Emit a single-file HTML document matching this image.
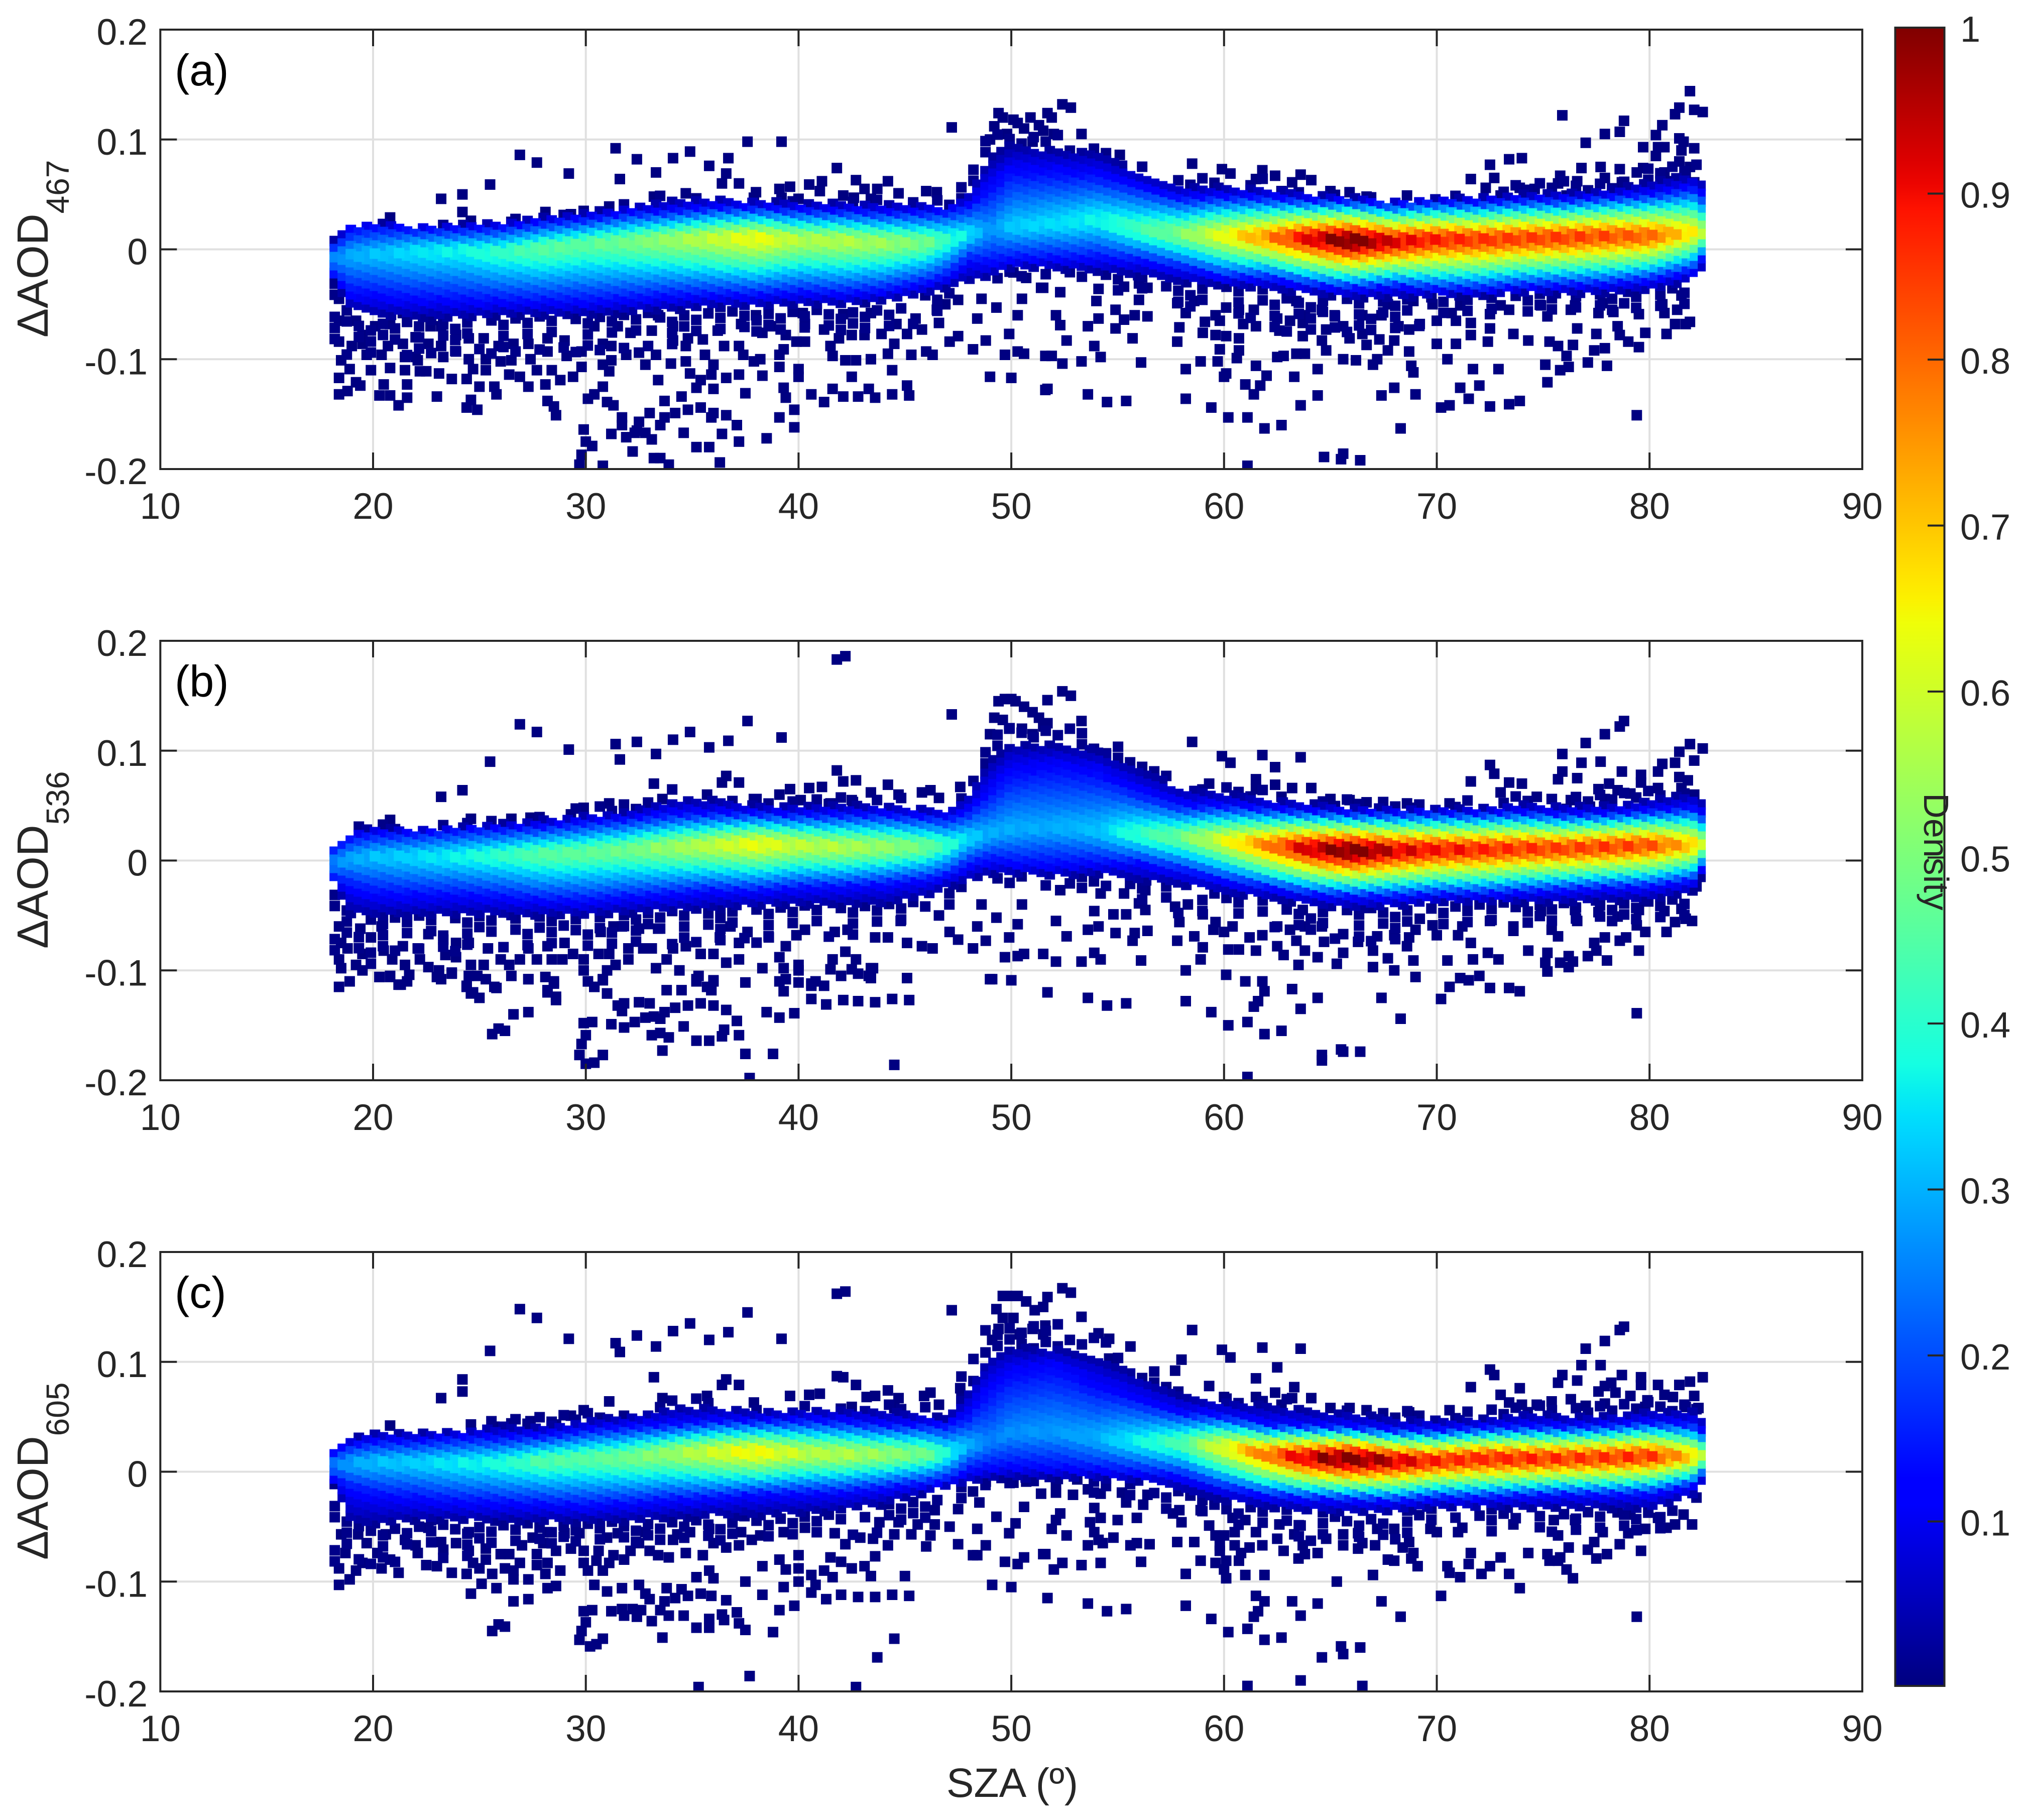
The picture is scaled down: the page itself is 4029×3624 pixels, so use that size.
<!DOCTYPE html>
<html lang="en">
<head>
<meta charset="utf-8">
<title>AOD difference versus SZA density scatter</title>
<style>
html,body{margin:0;padding:0;background:#fff;}
svg{display:block;}
text{font-family:"Liberation Sans",sans-serif;fill:#262626;}
</style>
</head>
<body>
<svg id="chart" width="4029" height="3624" viewBox="0 0 4029 3624">
<rect x="0" y="0" width="4029" height="3624" fill="#fff"/>
<defs>
<linearGradient id="jetGrad" x1="0" y1="1" x2="0" y2="0"></linearGradient>
<clipPath id="clipA"><rect x="319" y="59" width="3390" height="875"/></clipPath>
<clipPath id="clipB"><rect x="319" y="1276" width="3390" height="875"/></clipPath>
<clipPath id="clipC"><rect x="319" y="2493" width="3390" height="875"/></clipPath>
</defs>
<g id="panelA"></g>
<g id="panelB"></g>
<g id="panelC"></g>
<text x="348" y="170" font-size="88" style="fill:#000">(a)</text>
<text x="348" y="1387" font-size="88" style="fill:#000">(b)</text>
<text x="348" y="2604" font-size="88" style="fill:#000">(c)</text>
<text transform="translate(95 672) rotate(-90)" font-size="87">ΔAOD<tspan font-size="64" dy="42">467</tspan></text>
<text transform="translate(95 1889) rotate(-90)" font-size="87">ΔAOD<tspan font-size="64" dy="42">536</tspan></text>
<text transform="translate(95 3106) rotate(-90)" font-size="87">ΔAOD<tspan font-size="64" dy="42">605</tspan></text>
<text x="2016" y="3578" font-size="82" text-anchor="middle">SZA (º)</text>
<rect x="3774.5" y="55" width="98" height="3302" fill="url(#jetGrad)" stroke="#262626" stroke-width="4"/>
<g id="colorbarTicks"></g>
<text transform="translate(3832 1696) rotate(90)" font-size="70" text-anchor="middle">Density</text>
</svg>
<script>
const xTicks=[10,20,30,40,50,60,70,80,90];
const xTickLabels=["10","20","30","40","50","60","70","80","90"];
const yTicks=[-0.2,-0.1,0,0.1,0.2];
const yTickLabels=["-0.2","-0.1","0","0.1","0.2"];
const colorbarTicks=[0.1,0.2,0.3,0.4,0.5,0.6,0.7,0.8,0.9,1];
const colorbarTickLabels=["0.1","0.2","0.3","0.4","0.5","0.6","0.7","0.8","0.9","1"];

const szaBins=[18.2,19,20,22,24,26,28,30,32,34,36,38,40,42,44,46,47,48,49,50,52,54,56,58,60,62,64,66,68,70,72,74,76,78,80,82,82.4];

const centreA=[-.008,-.005,-.004,-.002,-.001,-.002,.001,.005,.007,.009,.01,.01,.009,.008,.006,.006,.009,.014,.018,.02,.023,.027,.018,.014,.0125,.011,.01,.008,.007,.009,.009,.01,.011,.012,.012,.015,.015];
const peakA=[.27,.3,.32,.36,.38,.42,.47,.47,.5,.55,.6,.66,.58,.58,.55,.5,.42,.36,.27,.33,.35,.38,.44,.52,.66,.78,.95,1.06,.95,.9,.88,.87,.87,.85,.83,.68,.6];
const upperA=[.005,.018,.02,.018,.018,.019,.024,.027,.032,.034,.037,.037,.035,.034,.033,.033,.034,.039,.055,.07,.07,.067,.057,.046,.047,.046,.044,.043,.04,.042,.042,.044,.044,.047,.049,.055,.049];
const upperTailA=[.008,.021,.024,.021,.022,.024,.029,.033,.039,.044,.046,.044,.042,.042,.041,.041,.038,.05,.082,.095,.09,.088,.07,.057,.056,.055,.05,.047,.044,.046,.047,.05,.051,.053,.061,.067,.062];
const upperSpeckleA=[.008,.024,.028,.024,.026,.028,.033,.038,.045,.05,.05,.05,.05,.052,.05,.05,.045,.07,.11,.118,.11,.1,.085,.07,.066,.065,.055,.05,.05,.05,.055,.06,.062,.065,.075,.085,.07];
const lowerA=[-.024,-.04,-.042,-.045,-.046,-.047,-.047,-.047,-.045,-.042,-.041,-.041,-.039,-.04,-.037,-.03,-.024,-.009,-.013,-.008,-.008,-.008,-.01,-.017,-.025,-.026,-.032,-.035,-.033,-.036,-.036,-.033,-.032,-.031,-.027,-.019,-.009];
const lowerTailA=[-.027,-.055,-.06,-.062,-.062,-.06,-.06,-.06,-.057,-.055,-.052,-.052,-.05,-.05,-.047,-.04,-.035,-.03,-.025,-.017,-.018,-.02,-.024,-.03,-.033,-.036,-.04,-.044,-.044,-.042,-.042,-.04,-.04,-.04,-.038,-.028,-.02];
const lowerSpeckleA=[-.1,-.1,-.1,-.098,-.095,-.095,-.095,-.095,-.09,-.09,-.085,-.08,-.08,-.08,-.075,-.065,-.05,-.04,-.03,-.025,-.03,-.035,-.045,-.055,-.06,-.07,-.08,-.085,-.08,-.065,-.065,-.06,-.06,-.06,-.06,-.05,-.03];

const centreB=[-.002,.002,.004,.004,.004,.005,.006,.007,.01,.0125,.014,.015,.014,.0125,.0125,.0125,.014,.02,.024,.028,.03,.027,.024,.021,.018,.014,.011,.009,.009,.01,.01,.011,.011,.0125,.014,.014,.015];
const peakB=[.28,.3,.32,.35,.38,.42,.47,.48,.5,.55,.6,.66,.6,.58,.55,.5,.42,.35,.3,.3,.3,.32,.42,.5,.64,.8,.97,1.06,.96,.92,.9,.88,.87,.87,.85,.72,.62];
const upperB=[.011,.021,.024,.024,.027,.028,.03,.034,.037,.041,.042,.042,.041,.041,.041,.039,.038,.044,.062,.08,.085,.08,.062,.049,.049,.046,.044,.042,.042,.042,.042,.043,.041,.042,.044,.047,.041];
const upperTailB=[.013,.026,.029,.028,.03,.033,.037,.041,.044,.055,.055,.05,.05,.05,.05,.047,.044,.06,.09,.105,.105,.1,.083,.065,.061,.055,.052,.048,.047,.047,.047,.051,.05,.05,.055,.06,.055];
const upperSpeckleB=[.015,.03,.034,.032,.036,.04,.045,.05,.055,.065,.065,.06,.058,.058,.058,.056,.05,.08,.12,.13,.125,.115,.095,.075,.07,.065,.06,.058,.055,.055,.055,.06,.058,.06,.065,.075,.065];
const lowerB=[-.017,-.024,-.03,-.031,-.031,-.033,-.036,-.036,-.033,-.03,-.027,-.027,-.024,-.023,-.021,-.017,-.013,-.003,.001,-.002,-.003,-.002,-.002,-.009,-.018,-.024,-.03,-.032,-.032,-.03,-.03,-.028,-.026,-.024,-.023,-.018,-.007];
const lowerTailB=[-.02,-.05,-.05,-.05,-.05,-.05,-.05,-.05,-.048,-.046,-.044,-.042,-.04,-.04,-.04,-.033,-.024,-.019,-.012,-.012,-.015,-.012,-.018,-.022,-.03,-.034,-.04,-.044,-.042,-.038,-.038,-.038,-.038,-.036,-.036,-.028,-.015];
const lowerSpeckleB=[-.09,-.095,-.095,-.09,-.09,-.085,-.085,-.085,-.085,-.08,-.075,-.075,-.07,-.07,-.07,-.06,-.05,-.035,-.025,-.02,-.025,-.03,-.04,-.05,-.055,-.06,-.07,-.075,-.075,-.06,-.06,-.06,-.06,-.06,-.06,-.05,-.025];

const centreC=[.0066,.008,.009,.009,.008,.008,.01,.012,.013,.017,.018,.018,.017,.016,.016,.016,.016,.024,.027,.035,.036,.03,.027,.026,.022,.016,.013,.012,.01,.01,.012,.012,.012,.013,.014,.014,.014];
const peakC=[.26,.3,.32,.34,.37,.4,.46,.47,.5,.55,.62,.68,.6,.58,.55,.5,.4,.3,.25,.27,.28,.3,.38,.46,.65,.82,.97,1.06,.97,.9,.9,.9,.88,.88,.88,.72,.6];
const upperC=[.017,.024,.027,.027,.03,.03,.032,.037,.04,.042,.045,.045,.046,.045,.042,.042,.041,.05,.075,.09,.095,.078,.065,.053,.05,.042,.041,.04,.037,.037,.039,.04,.04,.041,.044,.042,.037];
const upperTailC=[.02,.03,.035,.035,.037,.041,.041,.047,.05,.058,.058,.055,.056,.056,.055,.052,.047,.075,.105,.112,.112,.105,.086,.068,.063,.06,.055,.053,.047,.047,.047,.053,.05,.051,.055,.055,.05];
const upperSpeckleC=[.024,.036,.04,.042,.044,.05,.05,.056,.06,.066,.068,.065,.066,.066,.064,.06,.055,.11,.14,.145,.14,.125,.1,.08,.072,.068,.065,.063,.056,.056,.056,.062,.06,.06,.065,.07,.06];
const lowerC=[-.007,-.016,-.021,-.024,-.027,-.028,-.029,-.03,-.028,-.025,-.023,-.02,-.019,-.018,-.014,-.01,-.007,.002,.004,.006,.004,.002,0,-.004,-.015,-.021,-.024,-.025,-.026,-.023,-.023,-.021,-.02,-.02,-.019,-.012,-.004];
const lowerTailC=[-.011,-.048,-.048,-.044,-.044,-.045,-.045,-.046,-.045,-.042,-.04,-.04,-.038,-.035,-.03,-.019,-.014,-.011,-.006,-.006,-.006,-.006,-.009,-.016,-.026,-.032,-.036,-.038,-.036,-.033,-.033,-.033,-.033,-.033,-.035,-.022,-.011];
const lowerSpeckleC=[-.085,-.085,-.085,-.08,-.08,-.075,-.075,-.075,-.07,-.07,-.07,-.065,-.06,-.06,-.055,-.045,-.03,-.025,-.015,-.012,-.012,-.02,-.03,-.04,-.05,-.055,-.065,-.07,-.065,-.05,-.055,-.055,-.055,-.055,-.055,-.045,-.02];

const outliersA=[[26.9,.086],[27.7,.079],[25.5,.059],[24.2,.05],[23.2,.046],[24.2,.034],[24.6,.026],[20.8,.029],[26.5,.025],[28.1,.034],[29.2,.069],[31.4,.092],[31.6,.064],[32.4,.082],[33.3,.07],[34.1,.083],[34.9,.089],[35.8,.076],[36.7,.083],[36.6,.069],[36.4,.06],[37.2,.06],[37.6,.098],[39.2,.098],[41.8,.074],[41.1,.062],[40.5,.059],[42.7,.063],[44.2,.062],[43.1,.055],[43.7,.055],[39.6,.057],[39.1,.055],[38,.052],[47.2,.111],[46,.053],[46.5,.052],[44.7,.051],[31.1,.039],[33.2,.048],[34.7,.051],[29.3,.032],[29.9,.035],[41,.053],[42.1,.049],[42.6,.047],[43.4,.046],[40,.046],[39.2,.047],[37.9,.047],[49.4,.124],[49.6,.12],[50.1,.118],[50.3,.115],[49.2,.112],[49.8,.105],[50.6,.11],[50.9,.12],[51.3,.113],[49,.1],[51,.098],[52,.105],[51.9,.12],
[18.4,-.045],[18.4,-.065],[18.4,-.084],[18.5,-.101],[18.4,-.117],[18.4,-.132],[18.9,-.109],[18.8,-.129],[19.2,-.065],[19.5,-.078],[19,-.088],[19.7,-.096],[19.2,-.121],[19.4,-.124],[19.9,-.11],[19.5,-.086],[20.1,-.07],[20.4,-.096],[20.7,-.088],[21.4,-.086],[21.5,-.098],[20.5,-.123],[21.6,-.123],[20.3,-.133],[20.8,-.133],[21.6,-.135],[21.2,-.142],[20.8,-.068],[21.4,-.058],[20.8,-.108],[22,-.08],[22,-.098],[21.5,-.11],[22.2,-.111],[22.5,-.111],[22.1,-.101],[22.6,-.086],[23.2,-.07],[23.2,-.088],[23.3,-.098],[23.9,-.078],[23.9,-.093],[23.1,-.113],[23.7,-.118],[23,-.134],[22.7,-.07],[24.5,-.081],[24.5,-.1],[25.2,-.081],[25.3,-.1],[24.7,-.109],[25.3,-.11],[24.4,-.118],[25,-.125],[25.7,-.125],[25.8,-.132],[24.6,-.137],[24.4,-.144],[24.9,-.146],[25.9,-.088],[26,-.102],[26.5,-.101],[26.4,-.114],[26.9,-.116],[27.3,-.125],[26.6,-.086],[27.3,-.086],[27.4,-.1],[28.2,-.081],[28.2,-.093],[27.7,-.11],[28.1,-.123],[28.2,-.138],[28.5,-.143],[28.6,-.151],[28.8,-.119],[28.4,-.11],[29,-.083],[29.1,-.097],[29.8,-.093],[29.8,-.107],[29.4,-.116],[30.4,-.07],[30.8,-.125],[30.4,-.132],[30.1,-.136],[29.9,-.164],[30,-.175],[30.3,-.179],[29.8,-.187],[29.7,-.196],[30.8,-.086],[30.8,-.105],[31.2,-.088],[31.2,-.101],[31.1,-.111],[31.9,-.096],[32.1,-.076],[31.5,-.07],[32.5,-.094],[31,-.139],[31.3,-.142],[31.7,-.153],[31.2,-.168],[31.7,-.16],[31.9,-.171],[32.3,-.167],[32.5,-.157],[32.4,-.165],[30.8,-.197],[32.2,-.184],[33.1,-.074],[33.3,-.096],[32.8,-.105],[34.1,-.083],[34,-.104],[34.7,-.102],[34.7,-.088],[33.4,-.119],[33.7,-.138],[34.5,-.134],[33,-.149],[33.7,-.153],[33.5,-.16],[32.8,-.167],[33.1,-.173],[34.2,-.149],[34.6,-.167],[33.2,-.19],[33.5,-.19],[33.9,-.196],[33.4,-.06],[34.1,-.07],[34.8,-.081],[35.5,-.082],[35.6,-.096],[36,-.105],[34.9,-.113],[35.9,-.114],[35.4,-.119],[35.2,-.126],[36,-.127],[34.8,-.146],[35.4,-.144],[36,-.149],[35.9,-.153],[36.6,-.151],[37.1,-.16],[36.4,-.168],[35.2,-.18],[35.8,-.18],[37.2,-.175],[36.3,-.194],[36.5,-.088],[36.6,-.117],[37.2,-.114],[36.2,-.074],[37.3,-.068],[38,-.06],[37.2,-.088],[37.4,-.096],[37.9,-.102],[38.2,-.1],[38.3,-.115],[39.1,-.107],[39.1,-.096],[39.3,-.091],[37.5,-.131],[39.1,-.153],[38.5,-.172],[39.3,-.126],[39.4,-.135],[38.3,-.076],[38.7,-.07],[39.4,-.078],[39.8,-.146],[39.8,-.162],[39.9,-.084],[40.3,-.084],[40,-.109],[40,-.116],[40.6,-.132],[40.3,-.068],[41.2,-.073],[41.2,-.139],[40.2,-.058],[41.5,-.088],[41.6,-.097],[42.2,-.101],[42.7,-.101],[42.5,-.078],[43.1,-.078],[41.6,-.127],[42.1,-.134],[42.5,-.116],[42.8,-.134],[43.3,-.127],[43.6,-.135],[43.4,-.1],[42.1,-.059],[43.4,-.058],[41.9,-.081],[43.9,-.077],[44.2,-.095],[44.5,-.086],[44.6,-.068],[45.1,-.077],[45.8,-.073],[45.3,-.096],[44.4,-.11],[44.4,-.132],[45.1,-.124],[45.2,-.133],[46,-.093],[46.3,-.096],[46.6,-.067],[46.5,-.055],[46.9,-.05],[45.5,-.063],[47.5,-.046],[47.1,-.084],[47.5,-.079],[48.2,-.091],[48.8,-.083],[48.4,-.063],[48.6,-.045],[49.3,-.053],[49.9,-.077],[49.7,-.096],[50.3,-.093],[50.6,-.095],[50.3,-.06],[50.5,-.045],[49,-.116],[50,-.117],[51.4,-.035],[51.6,-.097],[51.6,-.128],[50.1,-.021],[50.7,-.026],
[52.4,.132],[52.8,.129],[51.7,.124],[53.3,.105],[51.5,.108],[58.5,.078],[55.1,.086],[59.9,.073],[60.3,.069],[61.8,.072],[62.4,.067],[63.6,.068],[63.2,.061],[64.1,.063],[61.5,.064],[65,.053],[65.9,.052],[62.7,.053],[66.7,.048],[68.6,.049],[72.5,.077],[73.4,.082],[74,.083],[71.6,.064],[72.7,.065],[72.3,.056],[75.9,.122],[77,.097],[77.9,.105],[78.6,.107],[78.8,.117],[80.6,.113],[80.3,.104],[79.7,.093],[80.4,.093],[80.7,.093],[80.3,.085],[81.4,.129],[81.2,.123],[81.9,.144],[82.1,.127],[82.5,.125],[81.4,.101],[81.6,.098],[82.1,.092],[81.5,.09],[81.4,.08],[76.8,.074],[77.7,.075],[78.6,.073],[75.8,.067],[76.6,.062],[77.9,.065],[79.7,.074],[79.4,.07],[80.7,.07],[81.9,.075],[81.7,.069],[75.7,.06],[73.9,.056],[74.6,.055],[76.1,.049],[73,.049],[78.7,.061],[82.1,.061],[81,.062],
[52.3,-.039],[51.5,-.035],[51.7,-.127],[53.6,-.132],[54.5,-.139],[55.4,-.138],[51.9,-.097],[52.4,-.104],[53.3,-.102],[54.2,-.098],[56.1,-.103],[52.6,-.083],[53.9,-.088],[55.7,-.081],[52.3,-.069],[52.1,-.06],[53.6,-.07],[54.1,-.063],[54.9,-.072],[55.3,-.064],[55.8,-.06],[56.4,-.061],[54,-.047],[54.1,-.036],[55.3,-.034],[56,-.031],[56.4,-.035],[56,-.046],[54.9,-.055],[57.8,-.049],[58.6,-.047],[58.2,-.058],[57.9,-.071],[57.8,-.084],[59,-.076],[59.1,-.066],[59.6,-.06],[60.1,-.053],[60.7,-.055],[59.8,-.065],[59.6,-.078],[60.1,-.079],[60.7,-.081],[60.9,-.068],[61.5,-.07],[62.6,-.074],[61.4,-.055],[62.5,-.063],[63.1,-.065],[63.7,-.067],[63.8,-.06],[63.4,-.047],[64.6,-.055],[64.6,-.083],[64.8,-.073],[65.2,-.06],[65.6,-.07],[65.9,-.081],[66.5,-.077],[66.5,-.06],[67.4,-.06],[67.3,-.082],[66.7,-.087],[68,-.083],[68.2,-.07],[68.7,-.073],[69.2,-.068],[67.7,-.05],[68.9,-.047],[69.8,-.05],[63.7,-.079],[63.8,-.095],[64.8,-.092],[63.4,-.095],[62.5,-.098],[62.8,-.097],[60.7,-.092],[59.8,-.091],[60.6,-.099],[59.7,-.102],[58.9,-.102],[58.2,-.109],[60.1,-.113],[60,-.116],[61.5,-.106],[62,-.115],[61,-.123],[61.7,-.124],[61.4,-.132],[63.3,-.116],[64.4,-.109],[63.6,-.142],[64.4,-.133],[65.6,-.1],[66.2,-.101],[67,-.105],[67.2,-.1],[67.7,-.092],[68.7,-.093],[68.8,-.106],[68.9,-.112],[70.5,-.1],[70,-.086],[70.9,-.086],[71.6,-.078],[72.4,-.084],[72.5,-.072],[73.6,-.077],[74.3,-.083],[75.3,-.084],[75.7,-.088],[76.4,-.087],[71.7,-.109],[72.9,-.109],[75.1,-.105],[76.1,-.097],[75.8,-.11],[76.2,-.107],[77.1,-.103],[78,-.106],[77.4,-.092],[77.9,-.09],[75.2,-.121],[71.1,-.126],[72,-.124],[71.5,-.136],[70.6,-.142],[70.2,-.144],[72.5,-.143],[73.4,-.141],[73.9,-.138],[69,-.132],[68,-.126],[67.4,-.133],[79.4,-.151],[68.3,-.163],[62.7,-.16],[61.9,-.163],[61.1,-.153],[60.2,-.153],[59.4,-.144],[58.2,-.136],[61.1,-.197],[64.7,-.189],[65.6,-.186],[65.5,-.191],[66.4,-.192],[72.5,-.059],[73.4,-.055],[75.2,-.061],[76.3,-.055],[77.6,-.058],[78.3,-.057],[79.5,-.059],[80.7,-.058],[81.3,-.055],[81.9,-.066],[81.2,-.068],[81.7,-.068],[80.8,-.077],[79.8,-.076],[79.5,-.089],[79,-.084],[78.5,-.07],[78.6,-.078],[77.5,-.077],[76.6,-.072],[70.7,-.058],[70.9,-.065],[71.6,-.067],[70,-.065],[71.1,-.051],[74.9,-.051],[76.5,-.051],[77.8,-.049],[80.6,-.05],[81.5,-.042],[73,-.051]];

const outliersB=[[26.9,.124],[27.7,.117],[25.5,.09],[24.2,.064],[23.2,.058],[29.2,.101],[31.4,.106],[31.6,.092],[32.4,.108],[33.3,.097],[34.1,.11],[34.9,.117],[35.8,.103],[36.7,.109],[37.6,.127],[39.2,.112],[41.8,.183],[42.2,.186],[41.8,.082],[42.1,.072],[42.7,.073],[44.2,.069],[36.6,.077],[36.4,.071],[37.2,.071],[33.2,.07],[40.5,.066],[41.1,.067],[39.6,.065],[39.1,.06],[37.9,.056],[40.1,.055],[43.4,.062],[44.7,.06],[46.2,.064],[45.8,.062],[46.6,.057],[47.2,.133],[20.8,.037],[24.6,.038],[26.5,.038],[27.4,.039],[29.9,.048],[31.1,.052],[29.3,.042],[33.6,.056],[35.7,.06],[42.5,.055],[41.5,.052],[47.6,.067],[49.4,.145],[49.7,.147],[50,.147],[50.2,.145],[49.2,.13],[49.6,.128],[49.9,.12],[50.6,.14],[51,.135],[51.3,.13],[49,.115],[50.5,.12],[51,.115],[51.7,.125],
[18.4,-.06],[18.5,-.075],[18.4,-.09],[18.8,-.08],[19.4,-.062],[19.2,-.095],[19.5,-.085],[19.9,-.07],[18.5,-.098],[18.9,-.11],[18.4,-.115],[19.5,-.1],[20.4,-.06],[20.5,-.082],[20.9,-.09],[21.4,-.078],[21.5,-.095],[20.3,-.106],[20.8,-.105],[21.6,-.11],[21.2,-.113],[21.7,-.104],[22.1,-.08],[22.2,-.09],[22.6,-.067],[22.6,-.097],[23.1,-.1],[23.2,-.108],[23.3,-.072],[23.4,-.086],[23.9,-.075],[23.9,-.088],[24.5,-.075],[24.6,-.095],[23.7,-.103],[24.5,-.105],[24.4,-.115],[24.7,-.12],[25,-.125],[24.9,-.105],[25.3,-.108],[25.4,-.08],[25.2,-.095],[25.7,-.115],[26,-.09],[26.4,-.095],[26.5,-.105],[26.9,-.09],[27.3,-.08],[27.3,-.108],[27.7,-.09],[28.2,-.078],[28.1,-.106],[28.5,-.112],[28.2,-.12],[28.6,-.127],[28.4,-.09],[28.9,-.09],[29,-.075],[29.4,-.085],[29.9,-.09],[29.9,-.1],[30.1,-.11],[30.4,-.115],[30.8,-.109],[31,-.121],[30.6,-.085],[30.7,-.065],[31.3,-.06],[31.1,-.085],[31.4,-.095],[31,-.1],[31.7,-.06],[32,-.08],[32,-.09],[32.5,-.062],[32.7,-.08],[33.1,-.08],[33.3,-.098],[33.4,-.062],[33.8,-.09],[34.1,-.08],[34.4,-.1],[34.7,-.078],[35.3,-.105],[35.4,-.085],[36,-.085],[35.2,-.11],[35.7,-.115],[36,-.11],[35.9,-.118],[36.6,-.093],[37.2,-.09],[37.2,-.075],[36.3,-.07],[36.8,-.06],[37.6,-.065],[38.3,-.098],[38.6,-.07],[39.1,-.088],[39.3,-.098],[39.4,-.078],[39.4,-.108],[39.9,-.068],[40,-.095],[40,-.1],[40.3,-.063],[39.1,-.11],[40.6,-.112],[40.8,-.11],[41.6,-.09],[41.5,-.099],[42.2,-.083],[42.7,-.09],[43.4,-.098],[42.8,-.103],[43.3,-.105],[42.3,-.063],[41.7,-.065],[43.6,-.07],[44.2,-.07],[44.8,-.055],[45.1,-.075],[45.8,-.078],[46.3,-.08],[46.6,-.05],[47.1,-.065],[47.5,-.072],[48.2,-.08],[48.8,-.073],[48.4,-.06],[48.6,-.04],[49.3,-.052],[49.9,-.07],[49.7,-.088],[50.3,-.087],[50.6,-.085],[50.3,-.058],[50.5,-.04],[49,-.108],[50,-.109],
[26.6,-.14],[27.3,-.138],[25.6,-.158],[25.9,-.153],[26.2,-.155],[29.9,-.148],[30.3,-.147],[30,-.159],[29.8,-.167],[29.7,-.177],[30,-.185],[30.4,-.184],[30.8,-.177],[30.1,-.11],[30.8,-.108],[30.4,-.115],[31,-.121],[31.5,-.132],[31.8,-.13],[32.5,-.129],[33,-.13],[31.7,-.137],[31.2,-.149],[31.8,-.152],[32.3,-.147],[32.8,-.143],[33.2,-.142],[33.7,-.138],[33.5,-.144],[34.2,-.134],[34.8,-.132],[35.4,-.13],[36,-.132],[36.6,-.136],[37.1,-.146],[34.6,-.151],[33.1,-.159],[33.5,-.157],[33.9,-.161],[35.2,-.164],[35.8,-.164],[36.4,-.16],[36.5,-.154],[37.2,-.159],[33.6,-.173],[37.5,-.176],[38.8,-.176],[37.7,-.198],[44.5,-.186],[38.5,-.138],[39.1,-.143],[39.8,-.139],[40.6,-.126],[41.3,-.131],[42.1,-.127],[42.8,-.128],[43.6,-.129],[44.4,-.126],[45.2,-.127],[39.3,-.119],[40.6,-.114],[41.2,-.114],[42,-.105],[42.5,-.099],[43.5,-.098],[43.4,-.107],[45.1,-.107],[49.1,-.108],[33.8,-.118],[34.5,-.118],[35.9,-.118],[35.2,-.108],[36,-.109],[37.5,-.111],[39.4,-.108],[40,-.111],[27.3,-.108],[28.5,-.11],[28.2,-.118],[28.6,-.124],[24.6,-.121],[24.4,-.114],[25.8,-.116],[23,-.106],[23.7,-.102],[20.3,-.106],[20.8,-.106],[21.3,-.113],
[52.4,.154],[52.8,.15],[51.7,.146],[53.3,.127],[51.5,.122],[58.5,.108],[59.9,.095],[60.3,.089],[61.8,.096],[63.6,.094],[62.4,.085],[61.5,.074],[62.4,.069],[63.2,.066],[64.1,.066],[59.3,.07],[61.5,.065],[62.7,.058],[65,.056],[65.9,.055],[66.7,.053],[68.6,.052],[68.9,.048],[70.6,.052],[78.8,.127],[78.6,.122],[77.9,.115],[77,.107],[75.9,.097],[76.8,.089],[77.7,.09],[75.9,.081],[75.7,.074],[76.6,.075],[72.5,.087],[72.7,.079],[71.6,.072],[73.4,.071],[74,.07],[73,.062],[74.7,.058],[75.4,.056],[76.3,.055],[76.1,.047],[78.7,.081],[79.6,.078],[80.6,.088],[81.2,.089],[81.9,.106],[82.5,.102],[81.4,.099],[82.1,.091],[80.4,.081],[81.4,.076],[81.8,.073],[79.6,.071],[78.1,.07],[77.6,.065],[78.5,.064],[79.1,.061],[80.4,.066],[81.5,.066],[82.1,.06],[77.9,.056],[77.2,.049],
[52.3,-.027],[51.7,-.12],[53.6,-.125],[54.5,-.132],[55.4,-.13],[52.1,-.092],[53.3,-.092],[54.2,-.09],[56.1,-.091],[51.5,-.085],[53.9,-.084],[52.6,-.069],[53.6,-.063],[54.1,-.06],[54.9,-.066],[55.8,-.066],[56.4,-.064],[55.7,-.073],[52.1,-.055],[53.9,-.046],[54.8,-.049],[56,-.039],[56.3,-.045],[55.4,-.049],[54.2,-.03],[55.3,-.03],[56.3,-.027],[57.7,-.042],[58.3,-.04],[59,-.049],[57.9,-.056],[57.8,-.073],[58.6,-.069],[59.6,-.056],[59,-.079],[60.2,-.081],[60.7,-.081],[59.5,-.063],[60,-.065],[60.4,-.06],[58.9,-.09],[58.2,-.1],[60.1,-.104],[61,-.11],[61.8,-.11],[61.9,-.119],[61.6,-.128],[61.4,-.133],[63.2,-.117],[64.4,-.125],[63.6,-.135],[59.4,-.138],[58.2,-.128],[60.2,-.15],[61.1,-.147],[61.9,-.158],[62.7,-.155],[61.1,-.197],[64.6,-.177],[64.6,-.182],[65.5,-.172],[65.6,-.174],[66.4,-.174],[68.3,-.144],[67.4,-.125],[70.2,-.126],[70.6,-.115],[71.1,-.107],[71.5,-.109],[72,-.105],[72.5,-.116],[73.4,-.116],[73.9,-.119],[69,-.106],[68,-.1],[67,-.097],[79.4,-.139],
[61.2,-.07],[61.8,-.068],[62.5,-.078],[61.5,-.082],[62.5,-.06],[63.1,-.063],[63.8,-.06],[63.7,-.045],[64.6,-.06],[64.7,-.074],[63.4,-.073],[63.8,-.082],[62.8,-.086],[64.4,-.088],[63.5,-.095],[65.3,-.094],[65.6,-.067],[65.6,-.084],[66.3,-.074],[67,-.082],[67.7,-.089],[67.2,-.069],[68,-.068],[68.7,-.07],[69,-.063],[68.6,-.078],[68.9,-.091],[70,-.068],[71,-.068],[71.2,-.06],[71.6,-.075],[72.5,-.055],[73.6,-.06],[70.5,-.091],[71.7,-.09],[72.4,-.084],[72.9,-.09],[74.3,-.082],[75.2,-.084],[75.1,-.093],[75.2,-.101],[75.8,-.093],[76.2,-.087],[76.4,-.092],[76.2,-.097],[77.1,-.087],[77.5,-.082],[77.4,-.075],[77.9,-.07],[78,-.091],[78.6,-.073],[78.9,-.07],[79.5,-.082],[79.8,-.065],[79.4,-.059],[80.8,-.065],[81.2,-.056],[81.7,-.053],[82,-.055],[78.5,-.051],[76.6,-.055],[75.4,-.063],[75.7,-.069],[73.6,-.064],[77.6,-.047],[79.5,-.045],[80.7,-.046],[81.5,-.044],[74.9,-.046],[76.5,-.045],[69.8,-.059],[69.2,-.053]];

const outliersC=[[26.9,.148],[27.7,.14],[25.5,.11],[24.2,.084],[24.2,.073],[23.2,.067],[29.2,.121],[31.4,.117],[31.6,.109],[32.4,.124],[33.3,.114],[34.1,.128],[34.9,.135],[35.8,.12],[36.7,.127],[37.6,.145],[39.2,.121],[41.8,.162],[42.2,.164],[33.2,.086],[36.6,.084],[36.4,.079],[37.2,.079],[41.8,.087],[42.1,.086],[42.7,.079],[44.2,.074],[47.2,.147],[20.8,.042],[24.6,.043],[25.7,.041],[26.5,.044],[27.4,.046],[28.6,.043],[29.9,.056],[31.1,.064],[29.3,.051],[33.6,.067],[35.7,.069],[37.9,.063],[39.6,.069],[40.5,.07],[41,.071],[43.2,.068],[43.6,.069],[44.7,.067],[46.2,.072],[46.6,.061],[47.6,.076],[45.9,.069],[42.5,.059],[44.5,.058],[49.6,.16],[50,.16],[50.3,.16],[49.3,.148],[49.6,.14],[49.4,.13],[50.1,.14],[50.7,.155],[51.1,.147],[51.5,.15],[49.1,.12],[50.4,.125],[51,.13],[51.5,.125],
[18.4,-.103],[18.4,-.088],[18.9,-.098],[19.2,-.09],[18.7,-.074],[18.5,-.057],[19.3,-.057],[19.7,-.065],[20.2,-.074],[19.5,-.083],[20.4,-.088],[20.8,-.08],[21.2,-.092],[20.6,-.057],[21.5,-.062],[22,-.067],[22.1,-.074],[22.5,-.085],[23,-.086],[23.7,-.092],[22.6,-.051],[23.2,-.064],[23.3,-.071],[23.9,-.065],[24.5,-.072],[24.5,-.055],[25.3,-.07],[25.3,-.08],[24.7,-.083],[24.4,-.093],[25,-.088],[25.1,-.102],[25.6,-.093],[25.8,-.106],[24.6,-.111],[26,-.075],[26.4,-.075],[26.9,-.083],[27,-.067],[26.6,-.09],[26.2,-.088],[26.6,-.098],[27.3,-.098],[26.6,-.118],[27.3,-.116],[25.6,-.145],[25.9,-.139],[26.2,-.141],[27.5,-.06],[28.2,-.055],[28,-.065],[27.7,-.075],[28.2,-.083],[27.7,-.085],[28.1,-.093],[28.8,-.09],[28.6,-.104],[28.2,-.106],[29,-.056],[28.6,-.072],[29.3,-.07],[29.7,-.056],[29.9,-.072],[30.6,-.072],[29.9,-.083],[30.5,-.081],[30.1,-.09],[30.8,-.09],[30.4,-.103],[31.1,-.083],[31.3,-.076],[31.8,-.08],[31,-.06],[31.5,-.056],[32.1,-.072],[32.8,-.055],[32.5,-.065],[33,-.072],[33.4,-.076],[33.9,-.078],[34.1,-.062],[34.3,-.057],[34.7,-.074],[34.9,-.055],[35.5,-.076],[35.8,-.052],[36,-.065],[36.6,-.069],[37.2,-.067],[37.3,-.055],[37.8,-.062],[38.2,-.058],[39.3,-.055],[40.3,-.051],[41.7,-.056],[42.2,-.066],[42.9,-.06],[43.5,-.061],[44.2,-.067],[44.5,-.057],[45.3,-.057],[46.2,-.058],[46,-.068],[43.8,-.046],[44.7,-.046],[45.6,-.048],[46.4,-.048],[47.1,-.05],[47.5,-.066],[48.4,-.052],[48.8,-.067],[48.2,-.076],[48.4,-.076],[49.3,-.041],[49.9,-.056],[50.2,-.047],[50.6,-.032],[50.1,-.01],[50.7,-.009],[49.7,-.082],[50.3,-.084],[50.6,-.078],[51.6,-.075],[51.4,-.02],[48.8,-.009],[48.2,-.018],[48.5,-.028],[47.5,-.034],[46.4,-.035],
[29.9,-.127],[30.3,-.126],[30,-.137],[29.8,-.145],[29.7,-.153],[30.2,-.159],[30.5,-.157],[30.8,-.152],[31,-.109],[31.7,-.106],[32.5,-.103],[32.8,-.111],[33,-.116],[33.8,-.106],[34.5,-.107],[34.2,-.115],[34.8,-.113],[35.4,-.111],[35.9,-.113],[36.6,-.117],[33.7,-.118],[33.5,-.126],[33.9,-.131],[34.6,-.131],[33.1,-.136],[31.2,-.127],[31.7,-.125],[32.2,-.125],[32.6,-.126],[31.8,-.131],[32.4,-.132],[36.4,-.13],[36.5,-.135],[35.8,-.134],[35.2,-.142],[35.8,-.142],[37.1,-.128],[37.2,-.138],[37.5,-.144],[33.6,-.151],[38.8,-.146],[44.5,-.152],[43.7,-.169],[37.7,-.186],[35.3,-.196],[42.7,-.196],[35.2,-.096],[35.8,-.09],[36,-.097],[37.5,-.1],[38.3,-.086],[39.1,-.08],[39.4,-.089],[40,-.076],[40,-.088],[40,-.1],[39.3,-.105],[38.3,-.112],[39.1,-.126],[39.8,-.122],[40.6,-.094],[40.8,-.103],[40.6,-.11],[41.3,-.116],[42,-.112],[42.8,-.114],[43.6,-.114],[44.4,-.112],[45.2,-.113],[41.2,-.09],[41.6,-.096],[41.5,-.078],[42,-.082],[42.5,-.088],[43.1,-.086],[43.4,-.095],[43.6,-.077],[45,-.095],[49.1,-.103],[50,-.105],
[52.4,.167],[52.8,.163],[51.7,.159],[53.3,.141],[51.6,.133],[54.1,.126],[54.6,.121],[55.6,.114],[54.6,.103],[58.5,.129],[58,.102],[57.7,.092],[59.9,.111],[60.3,.104],[61.8,.113],[63.6,.112],[62.5,.095],[61.5,.085],[59.3,.078],[62.4,.072],[63.3,.077],[63.2,.067],[64.1,.067],[60,.068],[61.5,.068],[62.7,.061],[65,.058],[65.9,.058],[66.7,.056],[68.7,.054],[70.6,.056],[78.8,.132],[78.6,.129],[77.9,.119],[77,.112],[76.8,.097],[77.7,.097],[72.5,.093],[72.7,.088],[71.6,.077],[73.9,.076],[73,.07],[73.4,.063],[74,.061],[74.7,.061],[75.9,.088],[75.7,.081],[76.6,.083],[75.4,.064],[76.3,.066],[78.7,.088],[79.6,.086],[79.6,.079],[78.2,.081],[77.9,.078],[77.6,.073],[80.4,.079],[81.4,.079],[81.9,.082],[82.5,.086],[82.1,.069],[80.7,.07],[78.4,.072],[79.1,.069],[79.9,.065],[81.1,.068],[77.9,.062],[77,.06],[82.3,.058],[81.7,.059],[79.8,.059],
[52.1,-.012],[53.1,-.007],[52.1,-.019],[52.9,-.021],[53.6,-.016],[54.2,-.02],[55.2,-.019],[55.4,-.028],[56.2,-.03],[56.4,-.021],[53.9,-.033],[52.3,-.038],[52.1,-.044],[51.9,-.052],[53.7,-.046],[54.2,-.042],[55,-.044],[55.9,-.042],[53.9,-.055],[54.1,-.062],[54.8,-.06],[52.6,-.058],[53.6,-.067],[54.3,-.065],[55.6,-.067],[56.5,-.066],[55.9,-.065],[57.8,-.064],[58.6,-.064],[57.6,-.038],[57.9,-.035],[58,-.046],[58.9,-.035],[59.3,-.049],[59.6,-.058],[60,-.058],[60.5,-.055],[60.4,-.042],[61,-.044],[59.8,-.067],[60.5,-.067],[59.8,-.072],[60.8,-.074],[61.2,-.069],[61.8,-.067],[61.5,-.055],[62.6,-.048],[62.5,-.061],[63.3,-.057],[63.6,-.049],[62.8,-.072],[63.7,-.067],[63.5,-.079],[64.4,-.074],[63.8,-.075],[64.8,-.061],[65.6,-.057],[65.6,-.067],[66.3,-.056],[66.5,-.065],[66.3,-.07],[67.1,-.067],[67.2,-.052],[68,-.052],[68.7,-.064],[68.4,-.069],[67.7,-.08],[68,-.081],[68.9,-.074],[68.8,-.079],[69.1,-.086],[69.7,-.052],[70,-.055],[71,-.055],[71.2,-.051],[71.6,-.074],[71.5,-.084],[70.5,-.086],[70.6,-.092],[71.1,-.096],[72.1,-.093],[72.5,-.086],[73,-.078],[73.4,-.093],[73.9,-.106],[74.3,-.074],[75.2,-.075],[75.3,-.081],[75.8,-.078],[75.7,-.081],[76.1,-.089],[76.4,-.097],[76.2,-.069],[75.7,-.058],[77.1,-.071],[77.4,-.064],[77.5,-.079],[78,-.075],[77.8,-.055],[78.6,-.066],[79,-.056],[79.6,-.072],[79.4,-.053],[79.8,-.052],[80.8,-.051],[81.2,-.048],[82,-.048],[80.4,-.042],[81.6,-.039],[73.6,-.048],[75.5,-.044],[76.5,-.044],[78.5,-.037],[79.1,-.039],
[51.7,-.115],[53.6,-.12],[54.5,-.127],[55.4,-.125],[56.1,-.082],[53.3,-.085],[54.2,-.083],[52.4,-.083],[52,-.089],[51.5,-.075],[58.9,-.081],[59.6,-.083],[60.1,-.081],[60.7,-.081],[58.2,-.093],[60.1,-.097],[60,-.089],[61,-.094],[61.9,-.094],[65.3,-.1],[67,-.094],[61.5,-.113],[61.9,-.118],[61.6,-.127],[61.4,-.132],[63.2,-.118],[64.4,-.12],[63.6,-.131],[67.4,-.118],[70.2,-.113],[68.3,-.132],[59.4,-.134],[58.2,-.122],[60.2,-.146],[61.1,-.143],[61.9,-.153],[62.7,-.151],[79.4,-.132],[65.5,-.159],[65.6,-.166],[66.4,-.16],[64.6,-.169],[63.6,-.19],[61.1,-.195],[66.5,-.195]];

const svg=document.getElementById('chart');
const NS=svg.namespaceURI;
const INK='#262626';
const GRID='#e0e0e0';
const MARK=21;
const xLeft=319.3, xScale=42.37, panelH=875, tickLen=33;

function jet(t){
  const c=v=>Math.max(0,Math.min(1,v));
  const r=t<.89?c((t-.35)/.31):1-(t-.89)/.11*.5;
  const g=t<.64?c((t-.125)/.25):c(1-(t-.64)/.27);
  const b=t<.11?.5+t/.11*.5:c(1-(t-.34)/.31);
  return 'rgb('+Math.round(r*255)+','+Math.round(g*255)+','+Math.round(b*255)+')';
}
function xPx(v){return xLeft+(v-10)*xScale;}
function szaAt(px){return 10+(px-xLeft)/xScale;}
function yPx(top,v){return top+(0.2-v)/0.4*panelH;}
function aodAt(top,py){return 0.2-(py-top)/panelH*0.4;}
function add(tag,parent,attrs){
  const el=document.createElementNS(NS,tag);
  for(const k in attrs){el.setAttribute(k,attrs[k]);}
  parent.appendChild(el);
  return el;
}
function interp(s,arr){
  let i=0;
  while(i<szaBins.length-2&&szaBins[i+1]<s){i++;}
  const f=Math.max(0,Math.min(1,(s-szaBins[i])/(szaBins[i+1]-szaBins[i])));
  return arr[i]+(arr[i+1]-arr[i])*f;
}
function densityAt(v,c,p,u1,u0,l1,l0){
  const edge=.12;
  if(v>=u1){return edge+(0.02-edge)*Math.min(1,(v-u1)/Math.max(1e-4,u0-u1));}
  if(v<=l1){return edge+(0.015-edge)*Math.min(1,(l1-v)/Math.max(1e-4,l1-l0));}
  if(v>=c){return edge+(p-edge)*(1-(v-c)/Math.max(1e-4,u1-c));}
  return edge+(p-edge)*(1-(c-v)/Math.max(1e-4,c-l1));
}
function square(px,py){
  return 'M'+(px-MARK/2).toFixed(1)+' '+(py-MARK/2).toFixed(1)+'h'+MARK+'v'+MARK+'h-'+MARK+'z';
}

const layout=[
 {g:'panelA',clip:'clipA',top:59,points:outliersA,c:centreA,p:peakA,u1:upperA,u0:upperTailA,us:upperSpeckleA,l1:lowerA,l0:lowerTailA,ls:lowerSpeckleA},
 {g:'panelB',clip:'clipB',top:1276,points:outliersB,c:centreB,p:peakB,u1:upperB,u0:upperTailB,us:upperSpeckleB,l1:lowerB,l0:lowerTailB,ls:lowerSpeckleB},
 {g:'panelC',clip:'clipC',top:2493,points:outliersC,c:centreC,p:peakC,u1:upperC,u0:upperTailC,us:upperSpeckleC,l1:lowerC,l0:lowerTailC,ls:lowerSpeckleC}
];

function drawPanel(cfg){
  const g=document.getElementById(cfg.g);
  const top=cfg.top, bottom=top+panelH;
  const xR=xPx(90);

  const bg=add('rect',g,{x:xPx(10),y:top,width:xR-xPx(10),height:panelH,fill:'#fff'});
  
  

  xTicks.slice(1,-1).forEach(function(t){
    const ln=add('line',g,{x1:xPx(t),x2:xPx(t),y1:top,y2:bottom,stroke:GRID,'stroke-width':4});
    
    
  });
  yTicks.slice(1,-1).forEach(function(t){
    const ln=add('line',g,{x1:xPx(10),x2:xR,y1:yPx(top,t),y2:yPx(top,t),stroke:GRID,'stroke-width':4});
    
    
  });

  const data=add('g',g,{'clip-path':'url(#'+cfg.clip+')'});
  
  

  cfg.points.forEach(function(pt){
    const r=add('rect',data,{x:xPx(pt[0])-MARK/2,y:yPx(top,pt[1])-MARK/2,width:MARK,height:MARK,fill:jet(0.001)});
    
    
  });

  const x0=xPx(szaBins[0]), x1=xPx(szaBins[szaBins.length-1]);

  let sparseD='';
  let k=0;
  for(let px=x0;px<=x1;px+=24,k++){
    const s=szaAt(px);
    const u0=interp(s,cfg.u0), us=interp(s,cfg.us), l0=interp(s,cfg.l0), ls=interp(s,cfg.ls);
    const off=(k*9)%22;
    let r=0;
    for(let py=top+off;py<=bottom;py+=22,r++){
      const v=aodAt(top,py);
      let frac=-1;
      if(v<l0&&v>=ls){frac=(l0-v)/Math.max(1e-4,l0-ls);}
      else if(v>u0&&v<=us){frac=(v-u0)/Math.max(1e-4,us-u0);}
      if(frac<0){continue;}
      const keep=frac<.5?5:3;
      if((k*3+r*5)%7<keep){sparseD+=square(px,py);}
    }
  }
  const sparse=add('path',data,{d:sparseD,fill:jet(0.008)});
  
  

  const levels=new Array(128).fill('');
  let col=0;
  for(let px=x0;px<=x1;px+=16,col++){
    const s=szaAt(px);
    const c=interp(s,cfg.c), p=interp(s,cfg.p), u1=interp(s,cfg.u1), u0=interp(s,cfg.u0), l1=interp(s,cfg.l1), l0=interp(s,cfg.l0);
    const off=(col*5)%16;
    const start=Math.floor(yPx(top,u0)/16)*16+off-16;
    const end=yPx(top,l0);
    for(let py=start;py<=end;py+=16){
      const v=aodAt(top,py);
      if(v>u0||v<l0){continue;}
      const d=densityAt(v,c,p,u1,u0,l1,l0);
      const lv=Math.max(0,Math.min(127,Math.round(d*127)));
      levels[lv]+=square(px,py);
    }
  }
  levels.forEach(function(d,i){
    if(!d){return;}
    const layer=add('path',data,{d:d,fill:jet(i/127)});
    
    
  });

  xTicks.slice(1,-1).forEach(function(t){
    const a=add('line',g,{x1:xPx(t),x2:xPx(t),y1:top,y2:top+tickLen,stroke:INK,'stroke-width':4});
    
    
    const b=add('line',g,{x1:xPx(t),x2:xPx(t),y1:bottom-tickLen,y2:bottom,stroke:INK,'stroke-width':4});
    
    
  });
  yTicks.slice(1,-1).forEach(function(t){
    const y=yPx(top,t);
    const a=add('line',g,{x1:xPx(10),x2:xPx(10)+tickLen,y1:y,y2:y,stroke:INK,'stroke-width':4});
    
    
    const b=add('line',g,{x1:xR-tickLen,x2:xR,y1:y,y2:y,stroke:INK,'stroke-width':4});
    
    
  });

  const frame=add('rect',g,{x:xPx(10),y:top,width:xR-xPx(10),height:panelH,fill:'none',stroke:INK,'stroke-width':4});
  
  

  xTicks.forEach(function(t,i){
    const lb=add('text',g,{x:xPx(t),y:bottom+99,'font-size':73,'text-anchor':'middle'});
    lb.textContent=xTickLabels[i];
    
    
  });
  yTicks.forEach(function(t,i){
    const lb=add('text',g,{x:294,y:yPx(top,t)+30,'font-size':73,'text-anchor':'end'});
    lb.textContent=yTickLabels[i];
    
    
  });
}
layout.forEach(drawPanel);

const grad=document.getElementById('jetGrad');
for(let i=0;i<=64;i++){
  add('stop',grad,{offset:(i/64*100)+'%','stop-color':jet(i/64)});
}
const cbTop=55, cbPerUnit=3305;
const cbG=document.getElementById('colorbarTicks');
colorbarTicks.forEach(function(t,i){
  const y=cbTop+(1-t)*cbPerUnit;
  if(t<1){
    const tk=add('line',cbG,{x1:3872-33,x2:3872,y1:y,y2:y,stroke:INK,'stroke-width':4});
    
    
  }
  const lb=add('text',cbG,{x:3904,y:y+28,'font-size':72});
  lb.textContent=colorbarTickLabels[i];
  
  
});
</script>
</body>
</html>
